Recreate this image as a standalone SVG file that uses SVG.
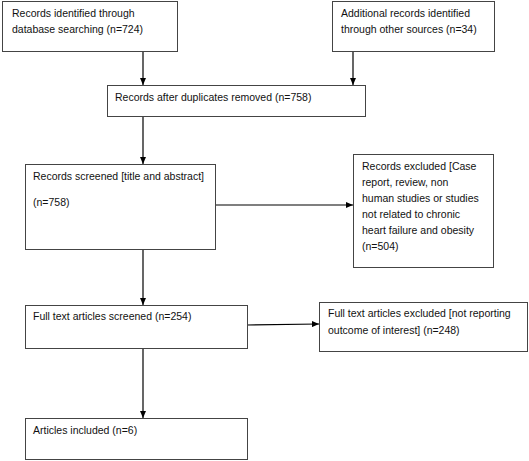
<svg xmlns="http://www.w3.org/2000/svg" width="529" height="461" viewBox="0 0 529 461">
<style>
.box{fill:#fff;stroke:#444;stroke-width:1}
.t{font-family:"Liberation Sans",Arial,sans-serif;font-size:10.5px;fill:#111}
.c{stroke:#000;stroke-width:1.2;fill:none}
</style>
<defs>
<marker id="ah" markerWidth="7" markerHeight="6" refX="7" refY="3" orient="auto" markerUnits="userSpaceOnUse">
<path d="M0,0 L7,3 L0,6 Z" fill="#000"/>
</marker>
</defs>
<rect width="529" height="461" fill="#fff"/>
<g id="connectors">
<line class="c" x1="143" y1="52" x2="143" y2="85" marker-end="url(#ah)"/>
<line class="c" x1="353" y1="52" x2="353" y2="85" marker-end="url(#ah)"/>
<line class="c" x1="143" y1="117" x2="143" y2="164" marker-end="url(#ah)"/>
<line class="c" x1="215" y1="205" x2="353" y2="205" marker-end="url(#ah)"/>
<line class="c" x1="143" y1="250" x2="143" y2="305" marker-end="url(#ah)"/>
<line class="c" x1="247" y1="325" x2="319" y2="324" marker-end="url(#ah)"/>
<line class="c" x1="143" y1="348" x2="143" y2="418" marker-end="url(#ah)"/>
</g>
<g id="n1">
<rect class="box" x="2.5" y="1.5" width="175" height="50"/>
<text class="t" x="12" y="17">Records identified through</text>
<text class="t" x="12" y="33">database searching (n=724)</text>
</g>
<g id="n2">
<rect class="box" x="332.5" y="1.5" width="162" height="50"/>
<text class="t" x="341" y="17">Additional records identified</text>
<text class="t" x="341" y="33">through other sources (n=34)</text>
</g>
<g id="n3">
<rect class="box" x="107.5" y="85.5" width="258" height="31"/>
<text class="t" x="115" y="101">Records after duplicates removed (n=758)</text>
</g>
<g id="n4">
<rect class="box" x="25.5" y="164.5" width="190" height="85"/>
<text class="t" x="33" y="180">Records screened [title and abstract]</text>
<text class="t" x="33" y="206">(n=758)</text>
</g>
<g id="n5">
<rect class="box" x="353.5" y="154.5" width="140" height="113"/>
<text class="t" x="362" y="170">Records excluded [Case</text>
<text class="t" x="362" y="186">report, review, non</text>
<text class="t" x="362" y="202">human studies or studies</text>
<text class="t" x="362" y="218">not related to chronic</text>
<text class="t" x="362" y="234">heart failure and obesity</text>
<text class="t" x="362" y="250">(n=504)</text>
</g>
<g id="n6">
<rect class="box" x="25.5" y="305.5" width="222" height="43"/>
<text class="t" x="33" y="320">Full text articles screened (n=254)</text>
</g>
<g id="n7">
<rect class="box" x="319.5" y="302.5" width="208" height="49"/>
<text class="t" x="328" y="317">Full text articles excluded [not reporting</text>
<text class="t" x="328" y="334">outcome of interest] (n=248)</text>
</g>
<g id="n8">
<rect class="box" x="25.5" y="418.5" width="222" height="41"/>
<text class="t" x="33" y="434">Articles included (n=6)</text>
</g>
</svg>
